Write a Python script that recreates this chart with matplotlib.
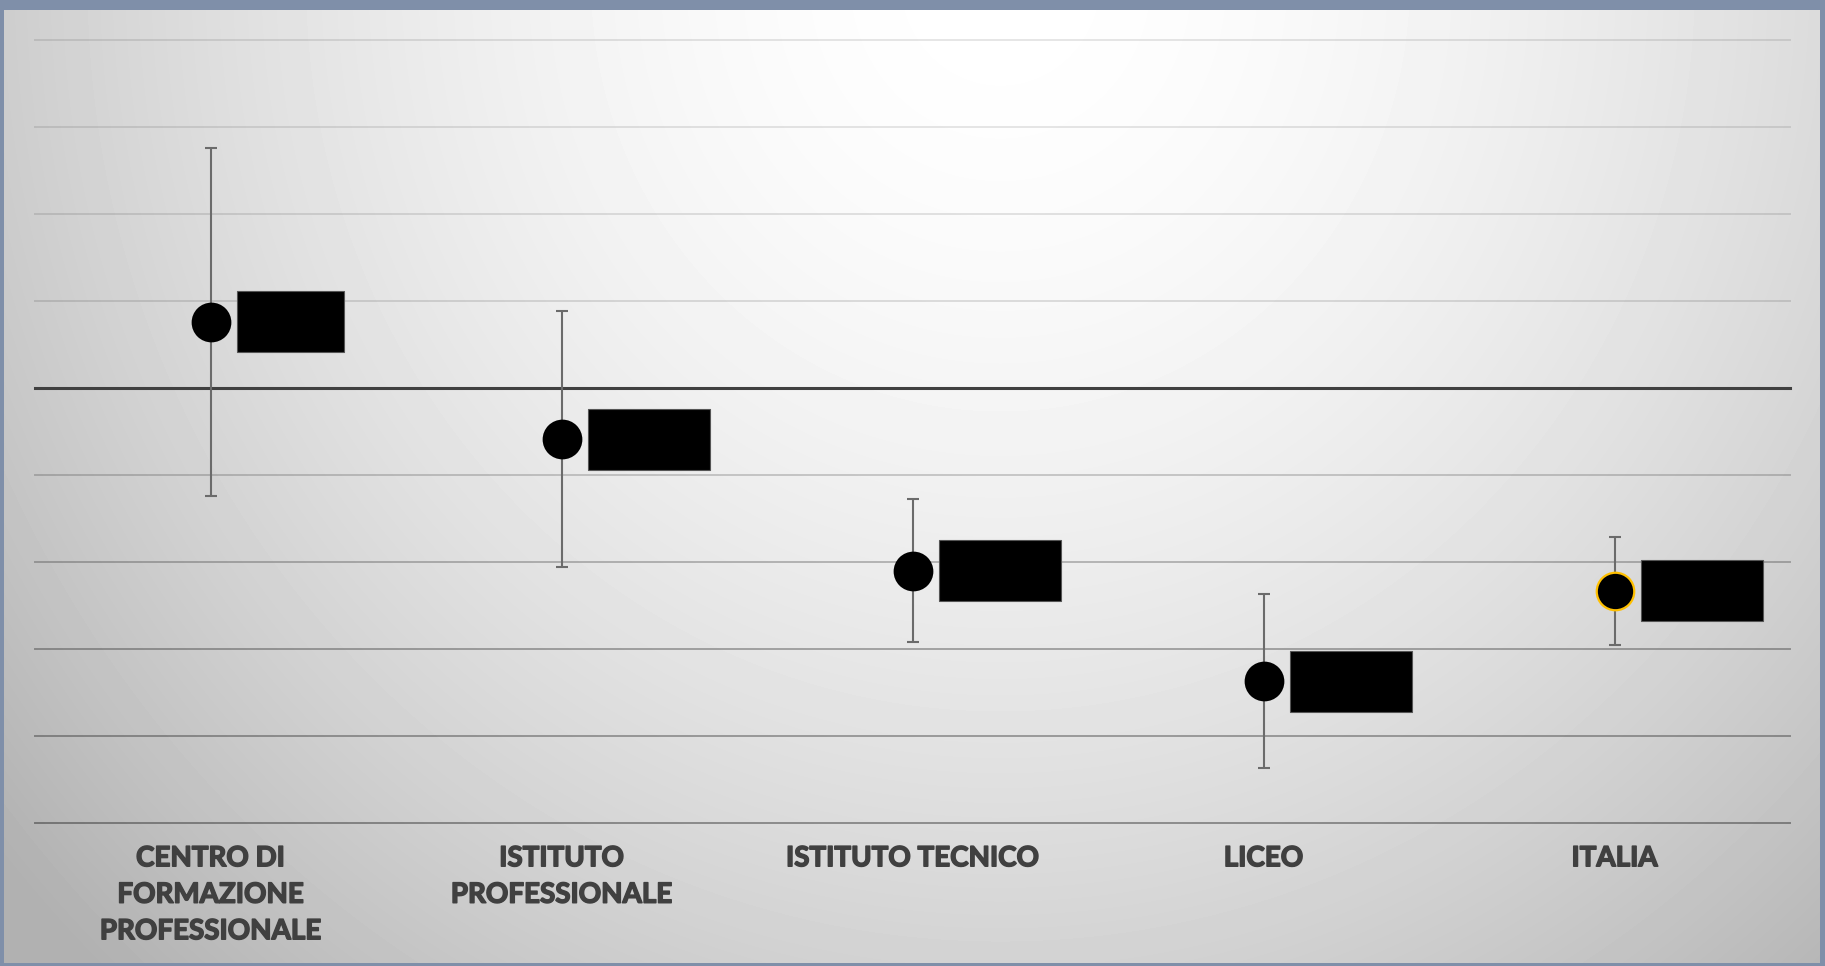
import numpy as np
import matplotlib
matplotlib.use("Agg")
import matplotlib.pyplot as plt
from matplotlib.patches import Rectangle
import matplotlib.transforms as mtransforms
import matplotlib.patheffects as pe

# ---- data ----
categories = ["CENTRO DI\nFORMAZIONE\nPROFESSIONALE", "ISTITUTO\nPROFESSIONALE",
              "ISTITUTO TECNICO", "LICEO", "ITALIA"]
values = [0.76, -0.59, -2.10, -3.37, -2.33]
errors = [2.00, 1.47, 0.82, 1.00, 0.62]
value_labels = ["0,8", "-0,6", "-2,1", "-3,4", "-2,3"]
grid_values = [-5, -4, -3, -2, -1, 0, 1, 2, 3, 4]

# ---- styles ----
W, H = 1825, 966
grid_alpha = {-5: 0.36, -4: 0.32, -3: 0.30, -2: 0.24, -1: 0.18,
              1: 0.12, 2: 0.11, 3: 0.10, 4: 0.10}
marker_edges = ["black", "black", "black", "black", "#FFC000"]
box_widths_px = [107, 122, 122, 122, 122]

fig = plt.figure(figsize=(W / 100, H / 100), dpi=100)

# background gradient
bg = fig.add_axes([0, 0, 1, 1], zorder=-10)
yy, xx = np.mgrid[0:H, 0:W]
d = np.sqrt((xx - 1000.0) ** 2 + ((yy + 20.0) * 0.95) ** 2) / 1000.0
c = 255 - 50 * np.clip(d, 0, 1.3) ** 1.7
img = np.clip(c, 0, 255) / 255.0
bg.imshow(img, cmap="gray", vmin=0, vmax=1, extent=[0, W, H, 0], aspect="auto",
          interpolation="bilinear")
bg.set_xlim(0, W)
bg.set_ylim(H, 0)
bg.axis("off")
frame = "#7f8fa9"
for (x0, y0, w, h) in [(0, 0, W, 10), (0, 0, 4, H), (W - 5, 0, 5, H), (0, H - 3, W, 3)]:
    bg.add_patch(Rectangle((x0, y0), w, h, color=frame, lw=0))

# main axes
ax = fig.add_axes([35 / W, (H - 823) / H, 1755 / W, (823 - 40) / H])
ax.set_facecolor("none")
ax.set_xlim(-0.5, len(categories) - 0.5)
ax.set_ylim(min(grid_values), max(grid_values))
for s in ax.spines.values():
    s.set_visible(False)

for g in grid_values:
    if g == 0:
        ax.axhline(g, color="#404040", lw=2.2, zorder=1, clip_on=False)
    else:
        ax.axhline(g, color="black", alpha=grid_alpha[g], lw=1.4, zorder=1, clip_on=False)

x = np.arange(len(categories))
ax.errorbar(x, values, yerr=errors, fmt="none", ecolor="#6b6b6b", elinewidth=1.5,
            capsize=4.3, capthick=1.5, zorder=3)
for i in range(len(categories)):
    ax.plot(x[i], values[i], "o", ms=27, mfc="black", mec=marker_edges[i],
            mew=1.6, zorder=4)
    tr = fig.dpi_scale_trans + mtransforms.ScaledTranslation(x[i], values[i], ax.transData)
    ax.add_patch(Rectangle((0.26, -0.305), box_widths_px[i] / 100, 0.61, transform=tr,
                           facecolor="black", edgecolor="#555555", lw=0.8,
                           clip_on=False, zorder=4))
    ax.text(0.26 + box_widths_px[i] / 200, 0, value_labels[i], transform=tr,
            ha="center", va="center", color="black", fontsize=18, zorder=5)

ax.set_yticks([])
ax.set_xticks(x)
ax.set_xticklabels(categories, fontfamily="Lato", fontweight="bold", fontsize=20,
                   color="#404040", linespacing=1.5)
for t in ax.get_xticklabels():
    t.set_path_effects([pe.withStroke(linewidth=1.1, foreground="#404040")])
ax.tick_params(axis="x", length=0, pad=16)

fig.savefig("out.png", dpi=100)
